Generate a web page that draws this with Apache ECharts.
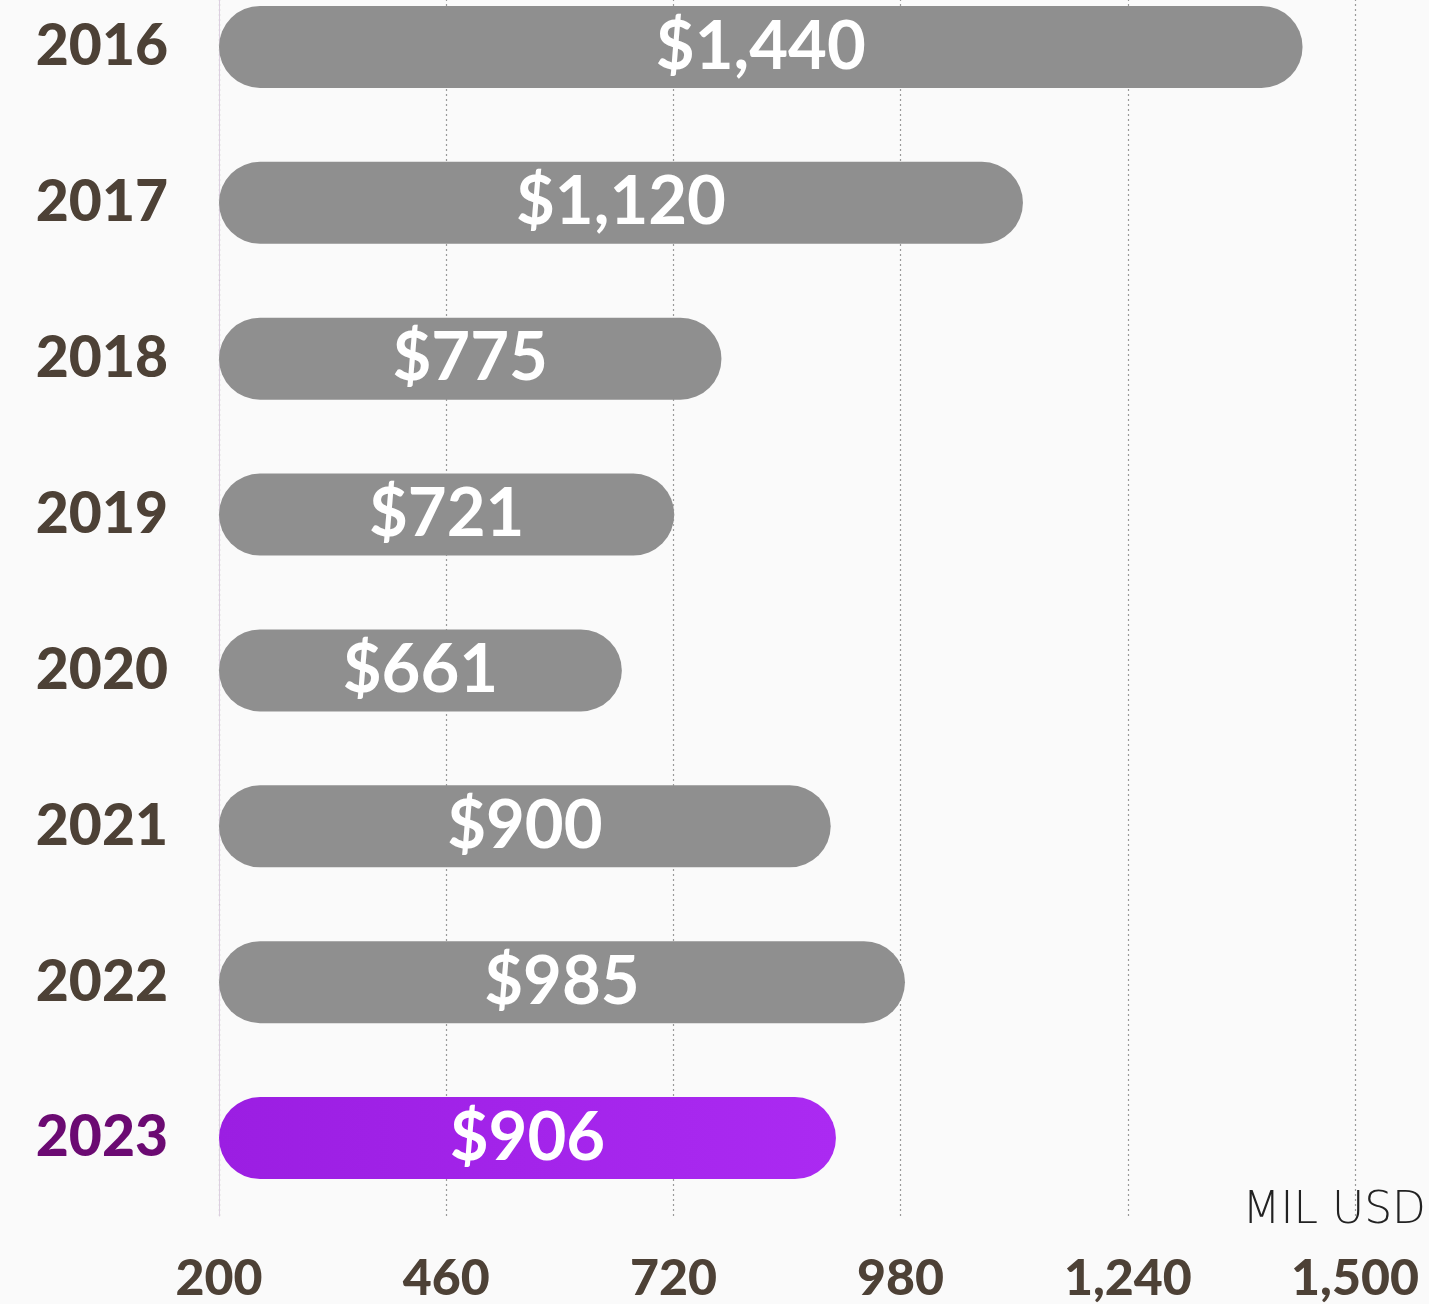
<!DOCTYPE html>
<html><head><meta charset="utf-8">
<style>html,body{margin:0;padding:0;background:#fafafa;overflow:hidden}#wrap{position:relative;width:1429px;height:1304px;overflow:hidden}#c{position:absolute;left:0;top:-31px;width:1429px;height:1335px}</style>
<script src="https://cdn.jsdelivr.net/npm/echarts@6/dist/echarts.min.js"></script>
</head><body><div id="wrap"><div id="c"></div></div>
<script>
const years = ['2016','2017','2018','2019','2020','2021','2022','2023'];
const values = [1440, 1120, 775, 721, 661, 900, 985, 906];
const xTicks = [200, 460, 720, 980, 1240, 1500];
const unitLabel = 'MIL USD';

const chart = echarts.init(document.getElementById('c'));
const last = years.length - 1;
chart.setOption({
  backgroundColor: '#fafafa',
  animation: false,
  grid: {left: 219, right: 72, top: 0, bottom: 86, containLabel: false},
  xAxis: {
    type: 'value', min: xTicks[0], max: xTicks[xTicks.length-1], interval: xTicks[1]-xTicks[0],
    axisLine: {show: false}, axisTick: {show: false},
    splitLine: {show: true, lineStyle: {color: '#9a9a9a', type: [2, 3], width: 1.2}},
    axisLabel: {margin: 38, fontFamily: 'Lato', fontWeight: 900, fontSize: 50, color: '#4d4136',
      formatter: v => v.toLocaleString('en-US')},
    name: unitLabel, nameLocation: 'end', nameGap: 0,
    nameTextStyle: {fontFamily: 'DejaVu Sans', fontWeight: 200, fontSize: 44, color: '#222', align: 'right', verticalAlign: 'bottom', padding: [0, -71, -18, 0]}
  },
  yAxis: {
    type: 'category', data: years, inverse: true,
    axisLine: {show: true, lineStyle: {color: '#dccfe0', width: 1}}, axisTick: {show: false},
    axisLabel: {margin: 51, fontFamily: 'Lato', fontWeight: 900, fontSize: 57,
      color: (v, i) => i === last ? '#6b0a72' : '#4d4136'}
  },
  series: [{
    type: 'bar', barWidth: 82,
    data: values.map((v, i) => i === last ? {value: v, itemStyle: {color: new echarts.graphic.LinearGradient(0,0,1,0,[{offset:0,color:'#9b1ee2'},{offset:1,color:'#ab2af2'}])}} : v),
    itemStyle: {color: '#8f8f8f', borderRadius: 41},
    label: {show: true, position: 'inside', fontFamily: 'Lato', fontWeight: 700, fontSize: 67, color: '#ffffff',
      formatter: p => '$' + p.value.toLocaleString('en-US')}
  }]
});
</script></body></html>
